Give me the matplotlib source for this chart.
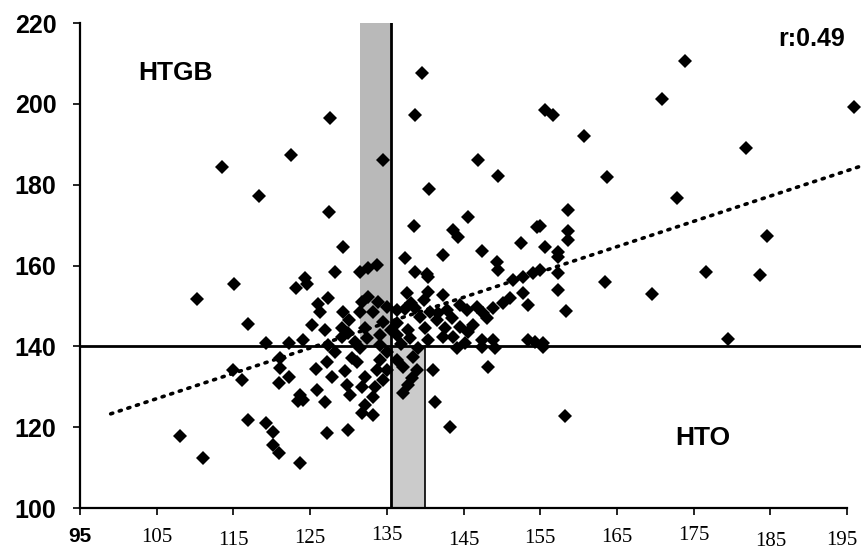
import matplotlib
matplotlib.use("Agg")
import matplotlib.pyplot as plt
from matplotlib.transforms import ScaledTranslation

# scatter values
xs = [113.5, 122.5, 118.3, 127.6, 139.6, 138.7, 134.5, 146.9, 149.5, 140.5,
      155.6, 156.7, 160.7, 173.8, 170.9, 195.9, 181.8, 163.7, 172.8, 184.6,
      158.6, 155.0, 158.6, 158.6, 155.6, 157.3, 157.3, 155.0, 157.3, 163.4,
      169.6, 176.6, 183.7, 157.3, 158.4, 179.4, 155.4, 158.2,
      115.1, 110.3, 116.9, 114.9, 116.1, 116.9, 108.0, 111.0, 119.3, 122.2,
      123.2, 121.1, 122.2, 120.9, 119.3, 120.2, 120.2, 120.9, 123.7, 123.4,
      127.5, 129.3, 128.2, 131.5, 132.5, 133.7, 138.5, 137.4, 138.7, 140.2,
      142.3, 143.6, 144.3, 145.6, 147.4, 149.4, 149.5, 152.5, 154.6, 124.3,
      124.6, 127.3, 126.3, 129.3, 132.5, 133.8, 135.0, 131.5, 133.2,
      140.4, 151.5, 152.8, 154.1, 137.6, 140.4, 142.3, 138.7, 140.6, 141.7,
      144.5, 145.5, 146.8, 147.5, 148.8, 150.1, 151.1, 153.4,
      125.2, 129.2, 129.2, 124.1, 127.3, 132.4, 134.1, 127.2, 130.5, 129.5,
      127.9, 129.8, 132.2, 130.2, 124.1, 125.9, 126.9, 133.5, 133.2, 132.2,
      133.2, 134.1, 135.0,
      131.8, 152.8, 137.3, 138.2, 142.8, 129.9, 132.2, 136.3, 136.3, 137.8,
      139.3, 140.0, 140.4, 141.5, 142.6, 143.6, 144.5, 145.6, 146.2, 147.4,
      148.8, 153.4, 154.3, 155.4, 121.1, 131.1, 134.1, 136.3, 137.1, 138.4,
      138.9, 138.3, 141.0, 148.2, 133.7, 134.5, 135.0, 123.7, 137.1, 141.3,
      131.8, 143.2, 127.2, 129.9, 147.4, 149.1, 145.2, 144.2, 148.1, 142.3,
      136.3,
      126.0, 130.0, 134.5, 139.8, 143.5, 136.8, 139.0, 131.5, 128.3, 125.8,
      131.8, 137.8, 135.5, 138.0, 130.8, 127.0]
ys = [184.4, 187.4, 177.2, 196.5, 207.7, 197.3, 186.1, 186.1, 182.2, 179.0,
      198.5, 197.3, 192.1, 210.6, 201.2, 199.3, 189.1, 181.9, 176.7, 167.3,
      173.8, 169.8, 168.6, 166.3, 164.6, 163.4, 162.1, 158.9, 158.2, 155.9,
      153.0, 158.4, 157.7, 154.0, 148.8, 141.8, 139.9, 122.8,
      155.4, 151.7, 145.5, 134.2, 131.7, 121.8, 117.8, 112.4, 140.8, 140.8,
      154.5, 134.7, 132.4, 130.9, 121.0, 118.8, 115.6, 113.6, 111.1, 126.5,
      173.3, 164.6, 158.4, 158.4, 159.4, 160.1, 169.8, 161.9, 158.4, 157.9,
      162.6, 168.8, 167.1, 172.0, 163.6, 160.9, 158.9, 165.6, 169.6, 157.0,
      155.4, 152.0, 148.5, 148.5, 152.2, 151.0, 149.8, 148.5, 148.5,
      157.2, 156.4, 157.2, 158.2, 153.2, 153.5, 152.7, 149.5, 148.5, 148.3,
      150.2, 149.0, 149.8, 148.3, 149.5, 150.7, 152.0, 150.2,
      145.3, 144.6, 142.3, 141.6, 140.3, 142.0, 142.8, 136.1, 137.1, 133.9,
      132.4, 130.4, 132.4, 128.0, 126.7, 129.2, 126.2, 130.0, 127.5, 125.5,
      123.0, 140.3, 138.6,
      151.0, 153.2, 149.3, 150.8, 149.0, 143.3, 144.6, 145.8, 142.8, 144.1,
      147.3, 144.6, 141.6, 146.5, 144.6, 142.3, 144.8, 143.6, 145.3, 141.6,
      141.6, 141.6, 141.1, 140.8, 137.1, 136.1, 136.6, 136.6, 134.9, 137.4,
      134.2, 132.2, 134.2, 134.9, 134.2, 131.7, 134.2, 128.0, 128.5, 126.2,
      123.5, 120.0, 118.6, 119.3, 139.9, 139.6, 140.8, 139.6, 147.0, 142.3,
      149.0,
      150.5, 146.5, 146.0, 151.5, 147.0, 140.5, 139.5, 139.5, 138.5, 134.5,
      130.0, 130.5, 144.0, 142.0, 141.0, 144.0]

reg_x = [99.0, 196.8]
reg_y = [123.3, 184.6]

x_ticks = [95, 105, 115, 125, 135, 145, 155, 165, 175, 185, 195]
y_ticks = [100, 120, 140, 160, 180, 200, 220]

fig = plt.figure(figsize=(8.61, 5.56), dpi=100)
ax = fig.add_axes([0.0929, 0.0863, 0.9071, 0.8723])
ax.set_xlim(95, 196.8)
ax.set_ylim(100, 220)

# grey bands and the quadrant lines
ax.fill_between([131.5, 135.6], 140, 220, color="#b9b9b9", lw=0, zorder=1)
ax.fill_between([135.4, 140.0], 100, 140, color="#cbcbcb", lw=0, zorder=1)
ax.plot([140.0, 140.0], [100, 140], color="black", lw=1.2, zorder=2)
ax.axvline(135.6, color="black", lw=2, zorder=2)
ax.axhline(140, color="black", lw=2, zorder=2)

ax.plot(reg_x, reg_y, color="black", lw=2.6, linestyle=(0, (0.6, 1.9)),
        dash_capstyle="round", zorder=3)
ax.plot(xs, ys, "D", color="black", ms=7.5, mew=0, zorder=4)

for s in ["top", "right"]:
    ax.spines[s].set_visible(False)
ax.spines["left"].set_linewidth(1.6)
ax.spines["bottom"].set_linewidth(1.6)
ax.spines["bottom"].set_bounds(95, 195)

ax.set_yticks(y_ticks)
ax.set_yticklabels([str(v) for v in y_ticks], fontsize=18,
                   fontweight="bold", family="Liberation Sans")
ax.set_xticks(x_ticks)
ax.set_xticklabels([str(v) for v in x_ticks], fontsize=15,
                   family="Liberation Serif")
ax.tick_params(axis="y", direction="out", length=5, width=1.2, pad=12)
ax.tick_params(axis="x", direction="out", length=5, width=1.2, pad=9)

xlabels = ax.get_xticklabels()
xlabels[0].set_family("Liberation Sans")
xlabels[0].set_fontweight("bold")
# the scanned labels sit a little unevenly
shifts = [(0, 0), (0, -1), (0, -4), (0, -2), (0, 1), (0, -4),
          (0, -2), (0, -1), (0, 1), (0, -5), (-5, -4)]
for lab, (dx, dy) in zip(xlabels, shifts):
    lab.set_transform(lab.get_transform() +
                      ScaledTranslation(dx / 100, dy / 100, fig.dpi_scale_trans))

ax.text(102.6, 205.9, "HTGB", fontsize=19, fontweight="bold",
        family="Liberation Sans", va="baseline", ha="left")
ax.text(172.6, 115.6, "HTO", fontsize=19, fontweight="bold",
        family="Liberation Sans", va="baseline", ha="left")
ax.text(194.7, 214.4, "r:0.49", fontsize=18, fontweight="bold",
        family="Liberation Sans", va="baseline", ha="right")

fig.savefig("out.png", dpi=100)
